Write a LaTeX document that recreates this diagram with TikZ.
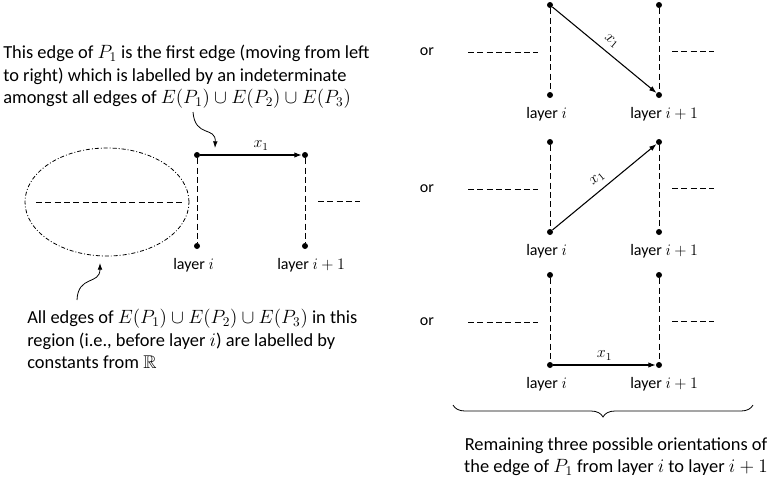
\documentclass[tikz,border=0pt]{standalone}
\usepackage{amssymb}
\usepackage{fontspec}
\setmainfont{Carlito}
\usetikzlibrary{arrows.meta,shapes.geometric,decorations.pathreplacing,calc}

\begin{document}
\begin{tikzpicture}[x=0.75pt, y=-0.75pt, font=\fontsize{12}{16}\selectfont,
    dot/.style={circle, fill, inner sep=0pt, minimum size=4.5pt},
    layer/.style={dash pattern=on 4.5pt off 2.5pt, line width=0.6pt},
    edge/.style={-{Latex[length=5.5pt,width=4pt]}, line width=0.8pt},
    note/.style={align=left, inner sep=0pt, anchor=north west, font=\fontsize{13.8}{16.8}\selectfont},
    lbl/.style={inner sep=0pt, anchor=north west}]
    \useasboundingbox (0,0) rectangle (776,476);

    % left part
    \node[note] (edge-note) at (3,45) {This edge of $P_1$ is the first edge (moving from left\\to right) which is labelled by an indeterminate\\amongst all edges of $E(P_1)\cup E(P_2)\cup E(P_3)$};
    \node[draw, ellipse, line width=0.6pt, dash pattern=on 3pt off 1.5pt on 0.7pt off 1.5pt,
      minimum width=123pt, minimum height=81pt] (region) at (107,202) {};
    \draw[layer] (36,202) -- (185,202);

    \node[dot] (e-tl) at (197,155) {};
    \node[dot] (e-tr) at (305,155) {};
    \node[dot] (e-bl) at (197,246) {};
    \node[dot] (e-br) at (305,246) {};
    \draw[layer] (e-tl) -- (e-bl);
    \draw[layer] (e-tr) -- (e-br);
    \draw[layer] (318,201) -- (360,201);
    \draw[edge] (e-tl) -- node[above, pos=0.6] {$x_1$} (e-tr);
    \node[lbl] (e-li) at ($(e-bl)+(-24,12)$) {layer $i$};
    \node[lbl] (e-lj) at ($(e-br)+(-28,12)$) {layer $i+1$};

    \coordinate (edge-note-foot) at (193,112);
    \coordinate (edge-mark) at (215,148);
    \draw[-{Latex[length=5pt,width=3.5pt]}, line width=0.6pt] (edge-note-foot) .. controls (195,138) and (216,126) .. (edge-mark);

    \node[note] (region-note) at (27,309) {All edges of $E(P_1)\cup E(P_2)\cup E(P_3)$ in this\\region (i.e., before layer $i$) are labelled by\\constants from $\mathbb{R}$};
    \coordinate (region-note-head) at (77,300);
    \coordinate (region-mark) at (100,263);
    \draw[-{Latex[length=5pt,width=3.5pt]}, line width=0.6pt] (region-note-head) .. controls (78,275) and (100,285) .. (region-mark);

    % right part
    \foreach \n/\y in {a/5, b/142, c/275} {
      \node[dot] (\n-tl) at (550,\y) {};
      \node[dot] (\n-tr) at (659,\y) {};
      \node[dot] (\n-bl) at (550,\y+90) {};
      \node[dot] (\n-br) at (659,\y+90) {};
      \draw[layer] (\n-tl) -- (\n-bl);
      \draw[layer] (\n-tr) -- (\n-br);
      \draw[layer] (468,\y+47) -- (538,\y+47);
      \draw[layer] (672,\y+46) -- (714,\y+46);
      \node (\n-or) at (427,\y+47) {or};
      \node[lbl] (\n-li) at ($(\n-bl)+(-24,12)$) {layer $i$};
      \node[lbl] (\n-lj) at ($(\n-br)+(-29,12)$) {layer $i+1$};
    }
    \draw[edge] (a-tl) -- node[above=1pt, sloped] {$x_1$} (a-br);
    \draw[edge] (b-bl) -- node[above=1pt, sloped] {$x_1$} (b-tr);
    \draw[edge] (c-bl) -- node[above] {$x_1$} (c-br);

    \coordinate (brace-l) at (453,405);
    \coordinate (brace-r) at (753,405);
    \draw[line width=0.6pt, decorate, decoration={brace, mirror, amplitude=9pt}] (brace-l) -- (brace-r);
    \node[note, align=center, anchor=north] (orient-note) at (616,437) {Remaining three possible orientations of\\the edge of $P_1$ from layer $i$ to layer $i+1$};
\end{tikzpicture}
\end{document}
